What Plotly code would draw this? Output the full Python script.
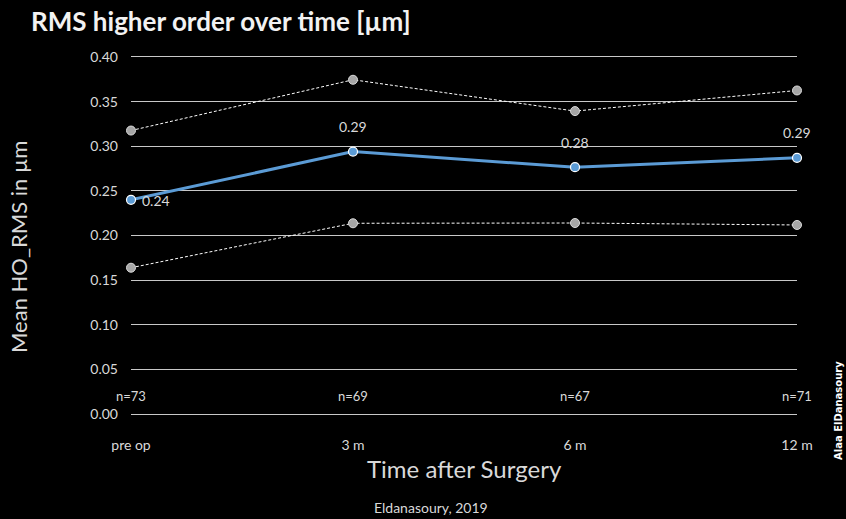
import plotly.graph_objects as go

categories = ["pre op", "3 m", "6 m", "12 m"]
n_labels = ["n=73", "n=69", "n=67", "n=71"]
mean_vals = [0.240, 0.294, 0.2765, 0.287]
upper_vals = [0.3176, 0.3745, 0.3394, 0.3625]
lower_vals = [0.1639, 0.2137, 0.214, 0.2118]
y_ticks = [0.00, 0.05, 0.10, 0.15, 0.20, 0.25, 0.30, 0.35, 0.40]

xs = list(range(len(categories)))
FONT = "Lato"
TXT = "#d9d9d9"
GRID = "#c8c8c8"

fig = go.Figure()
for vals in (upper_vals, lower_vals):
    fig.add_trace(go.Scatter(
        x=xs, y=vals, mode="lines+markers",
        line=dict(color="white", width=1, dash="3px,2px"),
        marker=dict(size=9, color="#a6a6a6", line=dict(color="#d9d9d9", width=1)),
        cliponaxis=False, hoverinfo="skip", showlegend=False))
fig.add_trace(go.Scatter(
    x=xs, y=mean_vals, mode="lines+markers",
    line=dict(color="#5b9bd5", width=3),
    marker=dict(size=9, color="#5b9bd5", line=dict(color="white", width=1.2)),
    cliponaxis=False, showlegend=False))

annotations = []
for i, v in enumerate(mean_vals):
    if i == 0:
        annotations.append(dict(x=xs[i], y=v, xref="x", yref="y", text=f"{v:.2f}",
                                showarrow=False, xanchor="left", xshift=9, yshift=-1,
                                font=dict(family=FONT, size=14, color=TXT)))
    else:
        annotations.append(dict(x=xs[i], y=v, xref="x", yref="y", text=f"{v:.2f}",
                                showarrow=False, yshift=25,
                                font=dict(family=FONT, size=14, color=TXT)))
for i, t in enumerate(n_labels):
    annotations.append(dict(x=xs[i], y=0, xref="x", yref="y", text=t, showarrow=False,
                            yshift=18, font=dict(family=FONT, size=13, color=TXT)))

W = 666.0
def px(xpix):
    return (xpix - 131) / W
H = 519 - 57 - 105
def py(ypix):
    return (519 - 105 - ypix) / H

annotations += [
    dict(text="<b>RMS higher order over time [µm]</b>", xref="paper", yref="paper",
         x=px(29), y=py(21), xanchor="left", yanchor="middle", showarrow=False,
         font=dict(family=FONT, size=26, color="#f2f2f2")),
    dict(text="Mean HO_RMS in µm", xref="paper", yref="paper", x=px(18), y=py(247),
         xanchor="center", yanchor="middle", textangle=-90, showarrow=False,
         font=dict(family=FONT, size=22, color=TXT)),
    dict(text="Time after Surgery", xref="paper", yref="paper", x=px(464), y=py(469),
         xanchor="center", yanchor="middle", showarrow=False,
         font=dict(family=FONT, size=24, color=TXT)),
    dict(text="Eldanasoury, 2019", xref="paper", yref="paper", x=px(431), y=py(507),
         xanchor="center", yanchor="middle", showarrow=False,
         font=dict(family=FONT, size=14, color=TXT)),
    dict(text="<b>Alaa ElDanasoury</b>", xref="paper", yref="paper", x=px(838), y=py(410),
         xanchor="center", yanchor="middle", textangle=-90, showarrow=False,
         font=dict(family="DejaVu Sans", size=10, color="white")),
]

fig.update_layout(
    width=846, height=519,
    paper_bgcolor="black", plot_bgcolor="black",
    margin=dict(l=131, r=49, t=57, b=105),
    annotations=annotations,
    xaxis=dict(range=[0, 3], tickvals=xs, ticktext=categories, showgrid=False,
               zeroline=False, showline=True, mirror=True, linecolor=GRID, linewidth=1,
               ticks="", ticklabelstandoff=18,
               tickfont=dict(family=FONT, size=14, color=TXT), fixedrange=True),
    yaxis=dict(range=[0, 0.40], tickvals=y_ticks, tickformat=".2f",
               showgrid=True, gridcolor=GRID, gridwidth=1, zeroline=False,
               showline=False, ticks="", ticklabelstandoff=12,
               tickfont=dict(family=FONT, size=14, color=TXT), fixedrange=True),
)

fig.write_html("out.html", config={"displayModeBar": False},
               post_script="document.body.style.margin='0';document.body.style.background='black';")
